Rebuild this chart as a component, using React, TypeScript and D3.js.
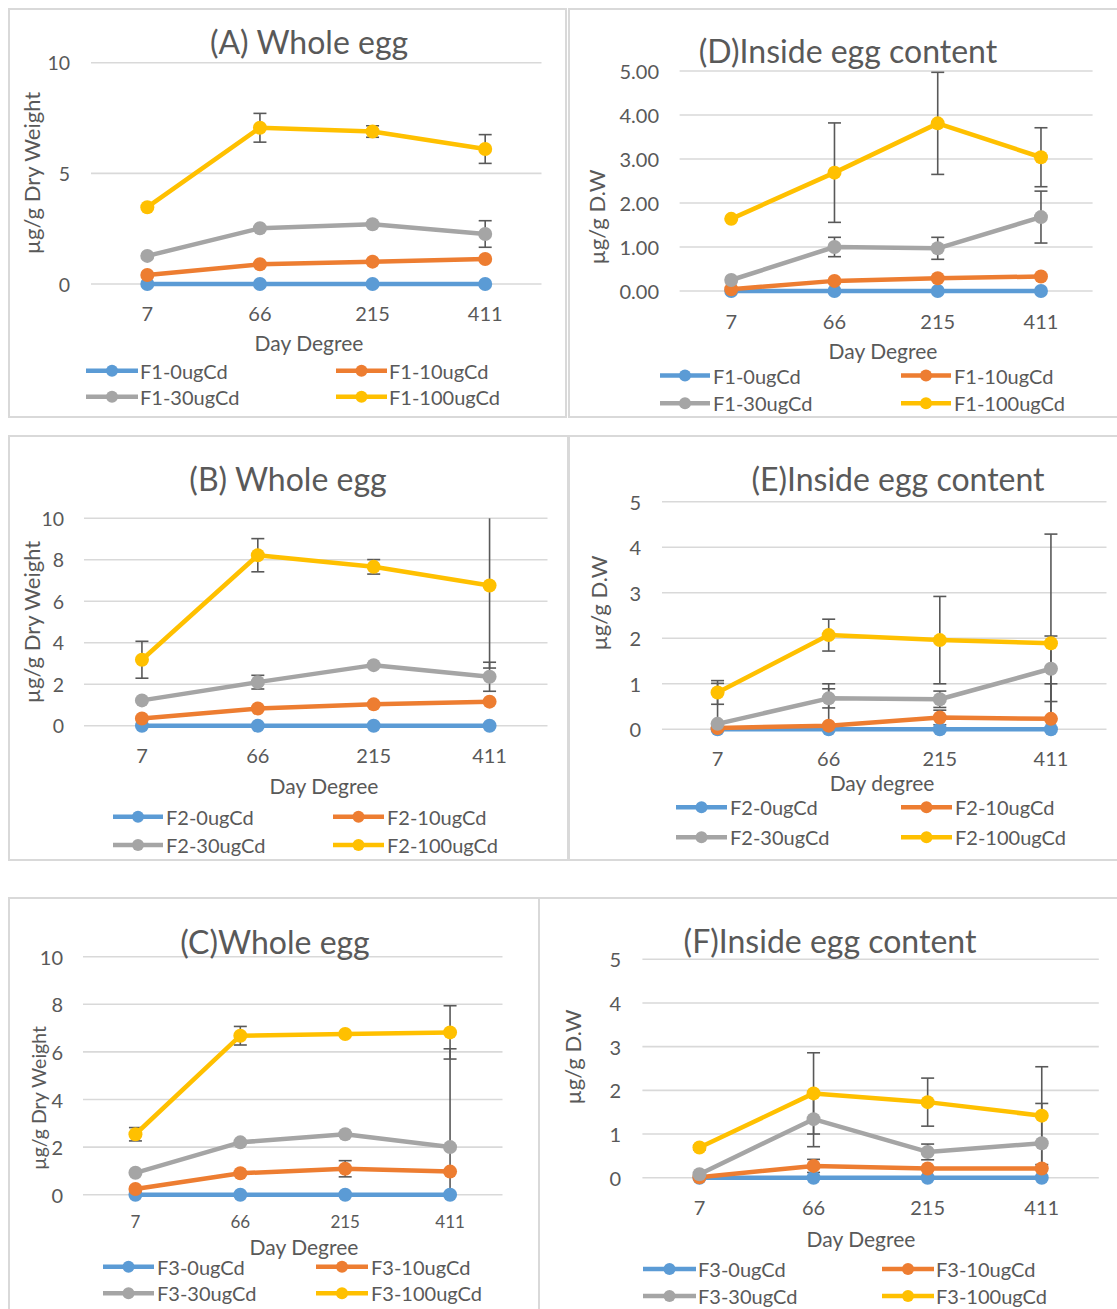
import React from "react";
import * as d3 from "d3";

// ---------- data ----------
const categories = ["7", "66", "215", "411"];
const doseNames = ["0ugCd", "10ugCd", "30ugCd", "100ugCd"];
const seriesColors = ["#5B9BD5", "#ED7D31", "#A5A5A5", "#FFC000"];

// (A) F1 whole egg
const a0 = [0, 0, 0, 0];
const a10 = [0.41, 0.89, 1.01, 1.13];
const a30 = [1.27, 2.52, 2.7, 2.26];
const a100 = [3.47, 7.06, 6.89, 6.1];
const aErr30 = [null, null, null, 0.6];
const aErr100 = [null, 0.65, 0.26, 0.65];

// (D) F1 inside egg content
const d0 = [0, 0, 0, 0];
const d10 = [0.04, 0.23, 0.29, 0.33];
const d30 = [0.25, 1.0, 0.97, 1.68];
const d100 = [1.64, 2.69, 3.81, 3.04];
const dErr30 = [null, 0.22, 0.25, 0.59];
const dErr100 = [null, 1.13, 1.16, 0.67];

// (B) F2 whole egg
const b0 = [0, 0, 0, 0];
const b10 = [0.35, 0.83, 1.03, 1.16];
const b30 = [1.22, 2.1, 2.92, 2.36];
const b100 = [3.18, 8.22, 7.66, 6.76];
const bErr30 = [null, 0.33, null, 0.7];
const bErr100 = [0.89, 0.8, 0.35, 3.98];

// (E) F2 inside egg content
const e0 = [0, 0, 0, 0];
const e10 = [0.03, 0.08, 0.26, 0.23];
const e30 = [0.12, 0.68, 0.66, 1.33];
const e100 = [0.81, 2.07, 1.96, 1.89];
const eErr10 = [null, 0.92, 0.16, 0.77];
const eErr30 = [0.89, 0.21, 0.18, 0.72];
const eErr100 = [0.26, 0.35, 0.96, 2.4];

// (C) F3 whole egg
const c0 = [0, 0, 0, 0];
const c10 = [0.24, 0.9, 1.09, 0.97];
const c30 = [0.92, 2.2, 2.54, 2.0];
const c100 = [2.54, 6.68, 6.75, 6.82];
const cErr10 = [null, null, 0.34, null];
const cErr30 = [null, null, null, 4.13];
const cErr100 = [0.28, 0.39, null, 1.12];

// (F) F3 inside egg content
const f0 = [0, 0, 0, 0];
const f10 = [0.01, 0.27, 0.21, 0.21];
const f30 = [0.08, 1.34, 0.59, 0.79];
const f100 = [0.69, 1.93, 1.73, 1.42];
const fErr10 = [null, 0.15, null, null];
const fErr30 = [null, 0.63, 0.18, 0.91];
const fErr100 = [0.05, 0.93, 0.55, 1.12];

const noErr = [null, null, null, null];

const ticks10 = [0, 5, 10];
const ticks10by2 = [0, 2, 4, 6, 8, 10];
const ticks5 = [0, 1, 2, 3, 4, 5];

// ---------- styling ----------
const FONT = "Lato, 'Open Sans', sans-serif";
const TEXT = "#595959";
const GRID = "#D9D9D9";
const ERR = "#595959";

type Series = { name: string; values: number[]; errors: (number | null)[] };

type Panel = {
  frame: [number, number, number, number];
  left: number; right: number; y0: number; yTop: number;
  yMax: number; yTicks: number[]; yFmt: (v: number) => string;
  title: string; titleX: number; titleY: number;
  yLabel: string; yLabelX: number; yLabelY: number; yLabelSize: number;
  yTickRight: number; yTickSize: number;
  xTickY: number; xTickSize: number;
  xLabel: string; xLabelX: number; xLabelY: number;
  legendRows: [number, number];
  legendCols: { x0: number; x1: number; tx: number }[];
  series: Series[];
};

const mk = (prefix: string, vals: number[][], errs: (number | null)[][]): Series[] =>
  doseNames.map((d, i) => ({ name: `${prefix}-${d}`, values: vals[i], errors: errs[i] }));

const fmtInt = (v: number) => d3.format("d")(v);
const fmt2 = (v: number) => d3.format(".2f")(v);

const panels: Panel[] = [
  {
    frame: [9, 9, 566, 417], left: 91, right: 541.5, y0: 284, yTop: 62.7,
    yMax: 10, yTicks: ticks10, yFmt: fmtInt,
    title: "(A) Whole egg", titleX: 309, titleY: 41.5,
    yLabel: "µg/g Dry Weight", yLabelX: 31, yLabelY: 173, yLabelSize: 22,
    yTickRight: 70, yTickSize: 19.5, xTickY: 313, xTickSize: 20,
    xLabel: "Day Degree", xLabelX: 309, xLabelY: 342,
    legendRows: [370.7, 396.7],
    legendCols: [{ x0: 86, x1: 138, tx: 140 }, { x0: 336, x1: 387, tx: 389 }],
    series: mk("F1", [a0, a10, a30, a100], [noErr, noErr, aErr30, aErr100]),
  },
  {
    frame: [569, 9, 1122, 417], left: 679.6, right: 1092.6, y0: 291, yTop: 71,
    yMax: 5, yTicks: ticks5, yFmt: fmt2,
    title: "(D)Inside egg content", titleX: 848, titleY: 50,
    yLabel: "µg/g D.W", yLabelX: 596, yLabelY: 217, yLabelSize: 22,
    yTickRight: 659, yTickSize: 20, xTickY: 320.5, xTickSize: 20,
    xLabel: "Day Degree", xLabelX: 883, xLabelY: 350.5,
    legendRows: [375.5, 403.3],
    legendCols: [{ x0: 660, x1: 710, tx: 713 }, { x0: 901, x1: 951, tx: 954 }],
    series: mk("F1", [d0, d10, d30, d100], [noErr, noErr, dErr30, dErr100]),
  },
  {
    frame: [9, 436, 568, 860], left: 84, right: 547.5, y0: 725.7, yTop: 518.3,
    yMax: 10, yTicks: ticks10by2, yFmt: fmtInt,
    title: "(B) Whole egg", titleX: 288, titleY: 478,
    yLabel: "µg/g Dry Weight", yLabelX: 31, yLabelY: 622, yLabelSize: 22,
    yTickRight: 64, yTickSize: 19.5, xTickY: 755, xTickSize: 20,
    xLabel: "Day Degree", xLabelX: 324, xLabelY: 785,
    legendRows: [816.7, 845],
    legendCols: [{ x0: 113, x1: 163, tx: 166 }, { x0: 333, x1: 384, tx: 387 }],
    series: mk("F2", [b0, b10, b30, b100], [noErr, noErr, bErr30, bErr100]),
  },
  {
    frame: [569, 436, 1122, 860], left: 662, right: 1106.5, y0: 729.3, yTop: 501.8,
    yMax: 5, yTicks: ticks5, yFmt: fmtInt,
    title: "(E)Inside egg content", titleX: 898, titleY: 478,
    yLabel: "µg/g D.W", yLabelX: 598, yLabelY: 603, yLabelSize: 22,
    yTickRight: 641, yTickSize: 20, xTickY: 758, xTickSize: 20,
    xLabel: "Day degree", xLabelX: 882, xLabelY: 782,
    legendRows: [807.3, 837.3],
    legendCols: [{ x0: 676, x1: 727, tx: 730 }, { x0: 901, x1: 952, tx: 955 }],
    series: mk("F2", [e0, e10, e30, e100], [noErr, eErr10, eErr30, eErr100]),
  },
  {
    frame: [9, 898, 539, 1316], left: 83, right: 502.5, y0: 1194.7, yTop: 956.7,
    yMax: 10, yTicks: ticks10by2, yFmt: fmtInt,
    title: "(C)Whole egg", titleX: 275, titleY: 941,
    yLabel: "µg/g Dry Weight", yLabelX: 38, yLabelY: 1098, yLabelSize: 19.5,
    yTickRight: 63, yTickSize: 20, xTickY: 1221.5, xTickSize: 17,
    xLabel: "Day Degree", xLabelX: 304, xLabelY: 1246.5,
    legendRows: [1266.7, 1293.3],
    legendCols: [{ x0: 103, x1: 154, tx: 157 }, { x0: 316, x1: 368, tx: 371 }],
    series: mk("F3", [c0, c10, c30, c100], [noErr, cErr10, cErr30, cErr100]),
  },
  {
    frame: [539, 898, 1122, 1316], left: 642.4, right: 1098.8, y0: 1177.7, yTop: 959.3,
    yMax: 5, yTicks: ticks5, yFmt: fmtInt,
    title: "(F)Inside egg content", titleX: 830, titleY: 940,
    yLabel: "µg/g D.W", yLabelX: 572, yLabelY: 1057, yLabelSize: 22,
    yTickRight: 621, yTickSize: 20, xTickY: 1206.5, xTickSize: 20,
    xLabel: "Day Degree", xLabelX: 861, xLabelY: 1238,
    legendRows: [1269, 1296],
    legendCols: [{ x0: 643, x1: 696, tx: 698 }, { x0: 882, x1: 934, tx: 936 }],
    series: mk("F3", [f0, f10, f30, f100], [noErr, fErr10, fErr30, fErr100]),
  },
];

function PanelChart({ p }: { p: Panel }) {
  const x = d3.scalePoint<string>().domain(categories).range([p.left, p.right]).padding(0.5);
  const y = d3.scaleLinear().domain([0, p.yMax]).range([p.y0, p.yTop]);
  const line = d3.line<number>().x((_, i) => x(categories[i])!).y((v) => y(v));
  const [fx0, fy0, fx1, fy1] = p.frame;
  const cap = 6.5;

  return (
    <g>
      <rect x={fx0} y={fy0} width={fx1 - fx0} height={fy1 - fy0} fill="#fff" stroke={GRID} strokeWidth={2} />
      {p.yTicks.map((t) => (
        <line key={"g" + t} x1={p.left} x2={p.right} y1={y(t)} y2={y(t)} stroke={GRID} strokeWidth={1.6} />
      ))}
      {p.yTicks.map((t) => (
        <text key={"yt" + t} x={p.yTickRight} y={y(t)} textAnchor="end" dominantBaseline="central"
          fontSize={p.yTickSize} fill={TEXT} fontFamily={FONT}>{p.yFmt(t)}</text>
      ))}
      {categories.map((c) => (
        <text key={"xt" + c} x={x(c)} y={p.xTickY} textAnchor="middle" dominantBaseline="central"
          fontSize={p.xTickSize} fill={TEXT} fontFamily={FONT}>{c}</text>
      ))}
      <text x={p.titleX} y={p.titleY} textAnchor="middle" dominantBaseline="central" fontSize={32}
        fill={TEXT} fontFamily={FONT}>{p.title}</text>
      <text transform={`translate(${p.yLabelX},${p.yLabelY}) rotate(-90)`} textAnchor="middle"
        dominantBaseline="central" fontSize={p.yLabelSize} fill={TEXT} fontFamily={FONT}>{p.yLabel}</text>
      <text x={p.xLabelX} y={p.xLabelY} textAnchor="middle" dominantBaseline="central" fontSize={21}
        fill={TEXT} fontFamily={FONT}>{p.xLabel}</text>
      {p.series.map((s, si) =>
        s.errors.map((e, i) => {
          if (e == null) return null;
          const v = s.values[i];
          const cx = x(categories[i])!;
          const hi = v + e;
          const lo = v - e;
          const yHi = y(Math.min(hi, p.yMax));
          const yLo = y(Math.max(lo, 0));
          return (
            <g key={`e${si}-${i}`} stroke={ERR} strokeWidth={1.6}>
              <line x1={cx} x2={cx} y1={yHi} y2={yLo} />
              {hi <= p.yMax && <line x1={cx - cap} x2={cx + cap} y1={yHi} y2={yHi} />}
              {lo >= 0 && <line x1={cx - cap} x2={cx + cap} y1={yLo} y2={yLo} />}
            </g>
          );
        })
      )}
      {p.series.map((s, si) => (
        <g key={"s" + si}>
          <path d={line(s.values) || ""} fill="none" stroke={seriesColors[si]} strokeWidth={4.5}
            strokeLinejoin="round" strokeLinecap="round" />
          {s.values.map((v, i) => (
            <circle key={i} cx={x(categories[i])} cy={y(v)} r={7} fill={seriesColors[si]} />
          ))}
        </g>
      ))}
      {p.series.map((s, si) => {
        const col = p.legendCols[si % 2];
        const ly = p.legendRows[Math.floor(si / 2)];
        return (
          <g key={"l" + si}>
            <line x1={col.x0} x2={col.x1} y1={ly} y2={ly} stroke={seriesColors[si]} strokeWidth={4.5} />
            <circle cx={(col.x0 + col.x1) / 2} cy={ly} r={6} fill={seriesColors[si]} />
            <text x={col.tx} y={ly} dominantBaseline="central" fontSize={20} fill={TEXT}
              fontFamily={FONT}>{s.name}</text>
          </g>
        );
      })}
    </g>
  );
}

export default function App() {
  return (
    <div style={{ position: "absolute", left: 0, top: 0 }}>
      <svg width={1117} height={1309} style={{ display: "block", background: "#fff" }}>
        <rect x={0} y={0} width={1117} height={1309} fill="#fff" />
        {panels.map((p, i) => (
          <PanelChart key={i} p={p} />
        ))}
      </svg>
    </div>
  );
}
